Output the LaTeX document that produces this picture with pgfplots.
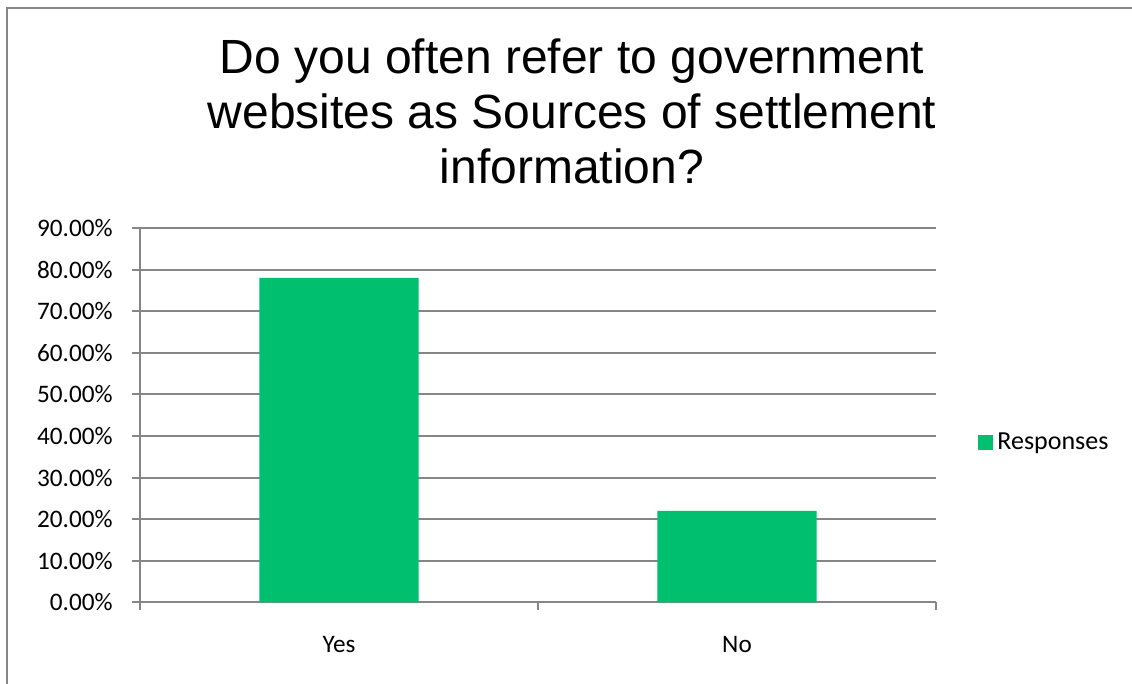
\documentclass[border=0pt]{standalone}
\usepackage{pgfplots}
\pgfplotsset{compat=1.18}
\usepackage{fontspec}
\setmainfont{Carlito}
\newfontfamily\titlefont{Liberation Sans}
\definecolor{bargreen}{RGB}{0,191,111}
\definecolor{linegray}{RGB}{134,134,134}
\begin{document}
\begin{tikzpicture}
\useasboundingbox (0,0) rectangle (566pt,342pt);
\draw[linegray, line width=1pt] (3.25pt,-10pt) rectangle (580pt,338pt);
\begin{axis}[
  at={(70pt,40.75pt)}, anchor=south west,
  scale only axis, width=398pt, height=187.25pt,
  xmin=-0.5, xmax=1.5, ymin=0, ymax=90,
  axis lines*=left,
  axis line style={linegray, line width=1pt},
  xtick={-0.5,0.5,1.5}, xticklabels={Yes,No}, x tick label as interval,
  ytick={0,10,20,30,40,50,60,70,80,90},
  yticklabels={0.00\%,10.00\%,20.00\%,30.00\%,40.00\%,50.00\%,60.00\%,70.00\%,80.00\%,90.00\%},
  tick align=outside, major tick length=3.75pt,
  tick style={linegray, line width=1pt},
  ymajorgrids, grid style={linegray, line width=1pt},
  ybar, bar width=0.4,
  ticklabel style={font=\fontsize{12.6}{15}\selectfont},
  xticklabel style={anchor=base, yshift=-21.5pt},
  yticklabel style={anchor=east, inner xsep=0pt, xshift=-9.75pt},
  legend style={at={(rel axis cs:1.0528,0.4267)}, anchor=west, draw=none, fill=none,
    inner sep=0pt, font=\fontsize{13}{15}\selectfont},
  legend cell align=left,
]
\addplot[fill=bargreen, draw=none,
  legend image code/.code={\fill[bargreen] (0pt,-3.75pt) rectangle (7.5pt,3.75pt);}]
  coordinates {(0,78) (1,22)};
\legend{Responses}
\end{axis}
\node[anchor=base, font=\titlefont\fontsize{24}{28}\selectfont] at (286pt,305.35pt) {Do you often refer to government};
\node[anchor=base, font=\titlefont\fontsize{24}{28}\selectfont] at (286pt,277.85pt) {websites as Sources of settlement};
\node[anchor=base, font=\titlefont\fontsize{24}{28}\selectfont] at (286pt,250.35pt) {information?};
\end{tikzpicture}
\end{document}
